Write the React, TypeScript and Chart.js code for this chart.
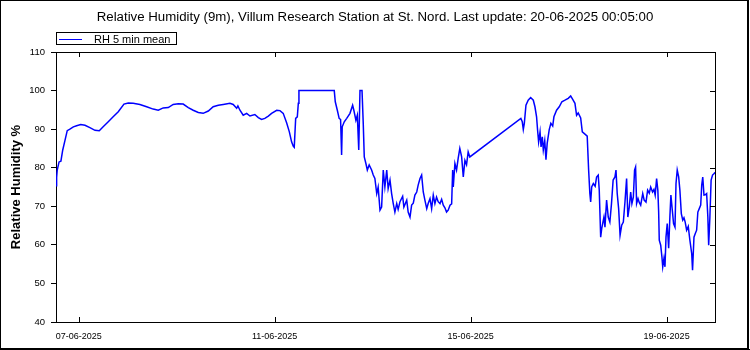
import React, { useEffect, useRef } from 'react';
import { Chart, registerables } from 'chart.js';

Chart.register(...registerables);

const TITLE = 'Relative Humidity (9m), Villum Research Station at St. Nord. Last update: 20-06-2025 00:05:00';
const SERIES_LABEL = 'RH 5 min mean';
const Y_TITLE = 'Relative Humidity %';
const SERIES_COLOR = '#0000ff';

// x ticks: hours since 06-06-2025 00:00
const X_TICK_HOURS = [24, 120, 216, 312];
const X_TICK_LABELS = ['07-06-2025', '11-06-2025', '15-06-2025', '19-06-2025'];
const Y_MIN = 40;
const Y_MAX = 110;
const Y_STEP = 10;

// Segment 1: 06-06 13:00 .. 11-06 04:00 (hours since 06-06-2025 00:00)
const HOURS_A = [12.9, 13.2, 13.5, 14.4, 15.3, 16.2, 17.3, 18.4, 19.7, 21.4, 23.0, 25.0, 27.1, 29.5, 32.0, 34.1, 36.0, 38.5, 40.9, 43.4, 46.2, 48.3, 50.7, 54.0, 57.3, 60.5, 63.0, 65.4, 67.9, 70.3, 72.8, 75.2, 77.7, 80.1, 82.6, 85.0, 87.5, 89.9, 92.4, 94.8, 98.1, 99.7, 101.4, 102.0, 103.0, 104.6, 106.3, 107.9, 110.3, 112.0, 113.6, 115.2, 116.9, 118.5, 121.0, 122.6, 124.2];
const RH_A = [75.3, 77.5, 79.4, 81.5, 81.7, 84.6, 87.1, 89.6, 90.0, 90.6, 90.9, 91.2, 91.0, 90.4, 89.7, 89.6, 90.6, 91.9, 93.2, 94.5, 96.5, 96.8, 96.7, 96.4, 95.8, 95.2, 94.9, 95.5, 95.6, 96.4, 96.6, 96.5, 95.6, 94.9, 94.3, 94.1, 94.7, 95.8, 96.2, 96.4, 96.7, 96.4, 95.4, 96.0, 94.9, 93.6, 94.1, 93.4, 93.8, 93.0, 92.5, 92.8, 93.4, 94.1, 94.9, 94.8, 94.1];

// Segment 2: 11-06 .. 15-06
const HOURS_B = [125.9, 127.2, 128.3, 129.1, 129.6, 130.3, 131.1, 131.6, 131.9, 149.2, 149.7, 150.7, 151.6, 152.3, 152.8, 153.1, 154.1, 155.3, 156.9, 158.2, 158.8, 159.8, 160.5, 161.2, 161.8, 162.8, 163.4, 163.9, 164.7, 165.4, 166.3, 167.5, 168.3, 169.1, 170.0, 170.7, 171.6, 172.4, 173.2, 174.0, 174.9, 175.6, 176.5, 177.3, 178.1, 178.9, 179.8, 180.5, 181.4, 182.7, 183.3, 184.7, 185.4, 186.3, 187.1, 187.9, 188.7, 189.6, 190.3, 191.2, 192.0, 192.8, 193.6, 194.5, 195.2, 196.1, 196.9, 197.7, 198.5, 199.3, 200.1, 201.0, 201.8, 202.6, 203.4, 204.2, 205.0, 205.9, 206.7, 207.2, 207.5, 208.3, 209.1, 209.9, 210.7, 211.6, 212.4, 213.2, 214.0, 214.8, 215.6];
const RH_B = [91.6, 89.3, 86.7, 85.6, 85.3, 92.8, 93.2, 96.7, 100, 100, 97.1, 94.9, 92.8, 92.5, 83.3, 90.6, 91.9, 92.8, 94.1, 96.2, 94.9, 92.3, 93.6, 84.6, 100, 100, 91.5, 82.8, 81.1, 79.4, 80.7, 79.4, 78.1, 77.2, 73.3, 75.0, 69.0, 69.8, 79.4, 75.0, 79.4, 74.6, 76.8, 73.3, 70.7, 68.5, 70.7, 69.2, 71.2, 72.6, 69.8, 71.6, 68.5, 67.2, 70.3, 70.8, 72.9, 73.7, 75.5, 77.2, 78.1, 73.7, 71.6, 69.4, 70.7, 72.0, 69.4, 72.9, 70.7, 72.4, 71.2, 70.7, 71.8, 70.3, 69.6, 68.5, 69.0, 70.3, 70.6, 79.4, 75.0, 81.1, 79.4, 82.4, 85.0, 82.8, 77.6, 81.9, 80.8, 84.1, 82.8];

// Segment 3: 16-06 .. 20-06 (after the data gap)
const HOURS_C = [240.6, 241.3, 241.8, 242.3, 243.1, 244.2, 245.4, 246.7, 247.5, 248.3, 248.8, 249.3, 250.0, 250.5, 251.1, 251.6, 252.3, 252.9, 253.5, 254.5, 255.3, 256.2, 256.8, 258.1, 259.4, 260.7, 262.2, 263.8, 265.0, 266.0, 267.1, 267.9, 268.7, 269.9, 270.7, 272.0, 273.1, 273.8, 274.4, 274.8, 275.3, 276.1, 277.0, 277.7, 278.5, 279.0, 279.7, 280.2, 281.3, 281.8, 282.6, 283.4, 284.2, 285.0, 285.8, 286.7, 287.2, 287.8, 288.5, 289.2, 290.0, 290.8, 291.6, 292.4, 293.0, 293.7, 294.4, 295.0, 295.7, 296.3, 296.8, 297.3, 298.0, 298.6, 299.3, 300.3, 301.0, 301.9, 302.7, 303.5, 304.2, 305.1, 305.8, 306.4, 307.1, 307.7, 308.1, 308.4, 309.1, 309.7, 310.1, 310.7, 311.2, 311.7, 312.3, 313.0, 313.6, 314.1, 314.8, 315.4, 316.1, 316.6, 317.2, 317.9, 318.5, 319.2, 319.9, 320.5, 321.1, 321.8, 322.6, 323.4, 324.3, 324.7, 325.4, 326.0, 326.7, 327.3, 328.0, 328.7, 329.2, 329.7, 330.3, 330.9, 331.6, 332.2, 332.6, 333.2, 333.8, 334.5, 335.3, 335.7];
const RH_C = [92.8, 91.9, 89.9, 91.5, 96.2, 97.5, 98.2, 97.5, 95.8, 93.2, 89.7, 86.7, 89.3, 85.4, 88.0, 84.6, 87.0, 82.1, 86.3, 89.9, 91.5, 90.8, 93.2, 94.9, 95.8, 97.1, 97.5, 98.0, 98.6, 97.7, 96.7, 93.6, 94.2, 92.9, 89.3, 88.7, 88.2, 79.4, 73.3, 71.1, 75.0, 75.9, 75.2, 77.6, 78.1, 74.2, 62.0, 64.2, 67.2, 64.6, 71.6, 67.2, 65.9, 70.7, 76.8, 77.6, 79.4, 73.3, 69.4, 62.5, 65.1, 65.9, 71.1, 77.2, 67.2, 69.8, 73.7, 70.7, 72.4, 79.4, 80.2, 70.7, 72.0, 71.0, 70.3, 73.3, 71.6, 71.1, 74.2, 73.4, 75.0, 73.7, 74.4, 72.9, 77.2, 74.2, 68.5, 61.2, 59.9, 56.9, 54.3, 56.5, 54.3, 62.0, 65.5, 59.1, 67.2, 72.9, 68.9, 65.5, 64.6, 75.9, 79.4, 77.6, 74.2, 68.1, 66.4, 67.0, 65.9, 63.8, 64.8, 61.2, 57.7, 53.4, 62.0, 62.9, 63.8, 68.5, 69.4, 70.3, 75.5, 77.6, 72.9, 73.0, 73.3, 67.2, 59.9, 67.2, 76.8, 78.1, 78.5, 78.8];

const FONT = '"Liberation Sans", Arial, sans-serif';

const decorPlugin = {
  id: 'decor',
  beforeDraw(chart: any) {
    const { ctx, width, height } = chart;
    ctx.save();
    ctx.fillStyle = '#ffffff';
    ctx.fillRect(0, 0, width, height);
    ctx.restore();
  },
  afterDraw(chart: any) {
    const { ctx, chartArea: a, scales } = chart;
    ctx.save();
    ctx.strokeStyle = '#000';
    ctx.lineWidth = 1;
    // outer frame
    ctx.strokeRect(0.5, 0.5, 747, 348);
    ctx.fillStyle = '#000';
    ctx.fillRect(748, 0, 1, 350);
    ctx.fillRect(0, 349, 750, 1);
    // plot frame (top, right)
    ctx.beginPath();
    ctx.moveTo(a.left, a.top + 0.5);
    ctx.lineTo(a.right + 1, a.top + 0.5);
    ctx.moveTo(a.right + 0.5, a.top);
    ctx.lineTo(a.right + 0.5, a.bottom + 1);
    ctx.stroke();
    // inner ticks on x (bottom + top mirror)
    const xs = scales.x;
    ctx.beginPath();
    for (const t of xs.ticks) {
      const px = Math.round(xs.getPixelForValue(t.value)) + 0.5;
      ctx.moveTo(px, a.bottom);
      ctx.lineTo(px, a.bottom - 5);
      ctx.moveTo(px, a.top);
      ctx.lineTo(px, a.top + 5);
    }
    // mirrored inner ticks on right
    const ys = scales.y;
    for (const t of ys.ticks) {
      const py = Math.round(ys.getPixelForValue(t.value)) + 0.5;
      ctx.moveTo(a.right, py);
      ctx.lineTo(a.right - 5, py);
    }
    ctx.stroke();
    // title
    ctx.fillStyle = '#000';
    ctx.font = '13.25px ' + FONT;
    ctx.textAlign = 'center';
    ctx.textBaseline = 'alphabetic';
    ctx.fillText(TITLE, 375, 21);
    // legend
    const ds = chart.data.datasets[0];
    ctx.strokeStyle = '#000';
    ctx.strokeRect(56.5, 32.5, 120, 12);
    ctx.strokeStyle = ds.borderColor;
    ctx.beginPath();
    ctx.moveTo(59, 39.5);
    ctx.lineTo(82, 39.5);
    ctx.stroke();
    ctx.fillStyle = '#000';
    ctx.font = '11px ' + FONT;
    ctx.textAlign = 'left';
    ctx.fillText(ds.label, 94, 43);
    ctx.restore();
  },
};

function toPoints(hours: number[], values: number[]) {
  return hours.map((h, i) => ({ x: h, y: values[i] }));
}

export default function App() {
  const canvasRef = useRef<HTMLCanvasElement | null>(null);

  useEffect(() => {
    document.body.style.margin = '0';
    const canvas = canvasRef.current;
    if (!canvas) return;
    const data = [
      ...toPoints(HOURS_A, RH_A),
      ...toPoints(HOURS_B, RH_B),
      ...toPoints(HOURS_C, RH_C),
    ];
    const chart = new Chart(canvas, {
      type: 'line',
      data: {
        datasets: [
          {
            label: SERIES_LABEL,
            data,
            borderColor: SERIES_COLOR,
            backgroundColor: SERIES_COLOR,
            borderWidth: 1.5,
            pointRadius: 0,
            tension: 0,
            fill: false,
          },
        ],
      },
      options: {
        responsive: false,
        animation: false,
        devicePixelRatio: 1,
        layout: { padding: { top: 52, right: 35, left: 0, bottom: 0 } },
        plugins: {
          legend: { display: false },
          title: { display: false },
          tooltip: { enabled: false },
        },
        scales: {
          x: {
            type: 'linear',
            min: HOURS_A[0],
            max: HOURS_C[HOURS_C.length - 1],
            afterBuildTicks: (scale: any) => {
              scale.ticks = X_TICK_HOURS.map((v) => ({ value: v }));
            },
            afterFit: (scale: any) => {
              scale.height = 28;
            },
            grid: { display: true, drawOnChartArea: false, drawTicks: false },
            border: { display: true, color: '#000', width: 1 },
            ticks: {
              autoSkip: false,
              maxRotation: 0,
              padding: 9,
              color: '#000',
              font: { family: FONT, size: 9 },
              callback: (_v: any, i: number) => X_TICK_LABELS[i],
            },
          },
          y: {
            min: Y_MIN,
            max: Y_MAX,
            afterFit: (scale: any) => {
              scale.width = 56;
            },
            grid: { display: true, drawOnChartArea: false, drawTicks: true, tickLength: 5, color: '#000' },
            border: { display: true, color: '#000', width: 1 },
            ticks: {
              stepSize: Y_STEP,
              padding: 6,
              color: '#000',
              font: { family: FONT, size: 9.5 },
            },
            title: {
              display: true,
              text: Y_TITLE,
              color: '#000',
              font: { family: FONT, size: 13, weight: 'bold' },
              padding: { top: 9, bottom: 0 },
            },
          },
        },
      },
      plugins: [decorPlugin],
    } as any);
    return () => chart.destroy();
  }, []);

  return <canvas ref={canvasRef} width={750} height={350} style={{ display: 'block' }} />;
}
